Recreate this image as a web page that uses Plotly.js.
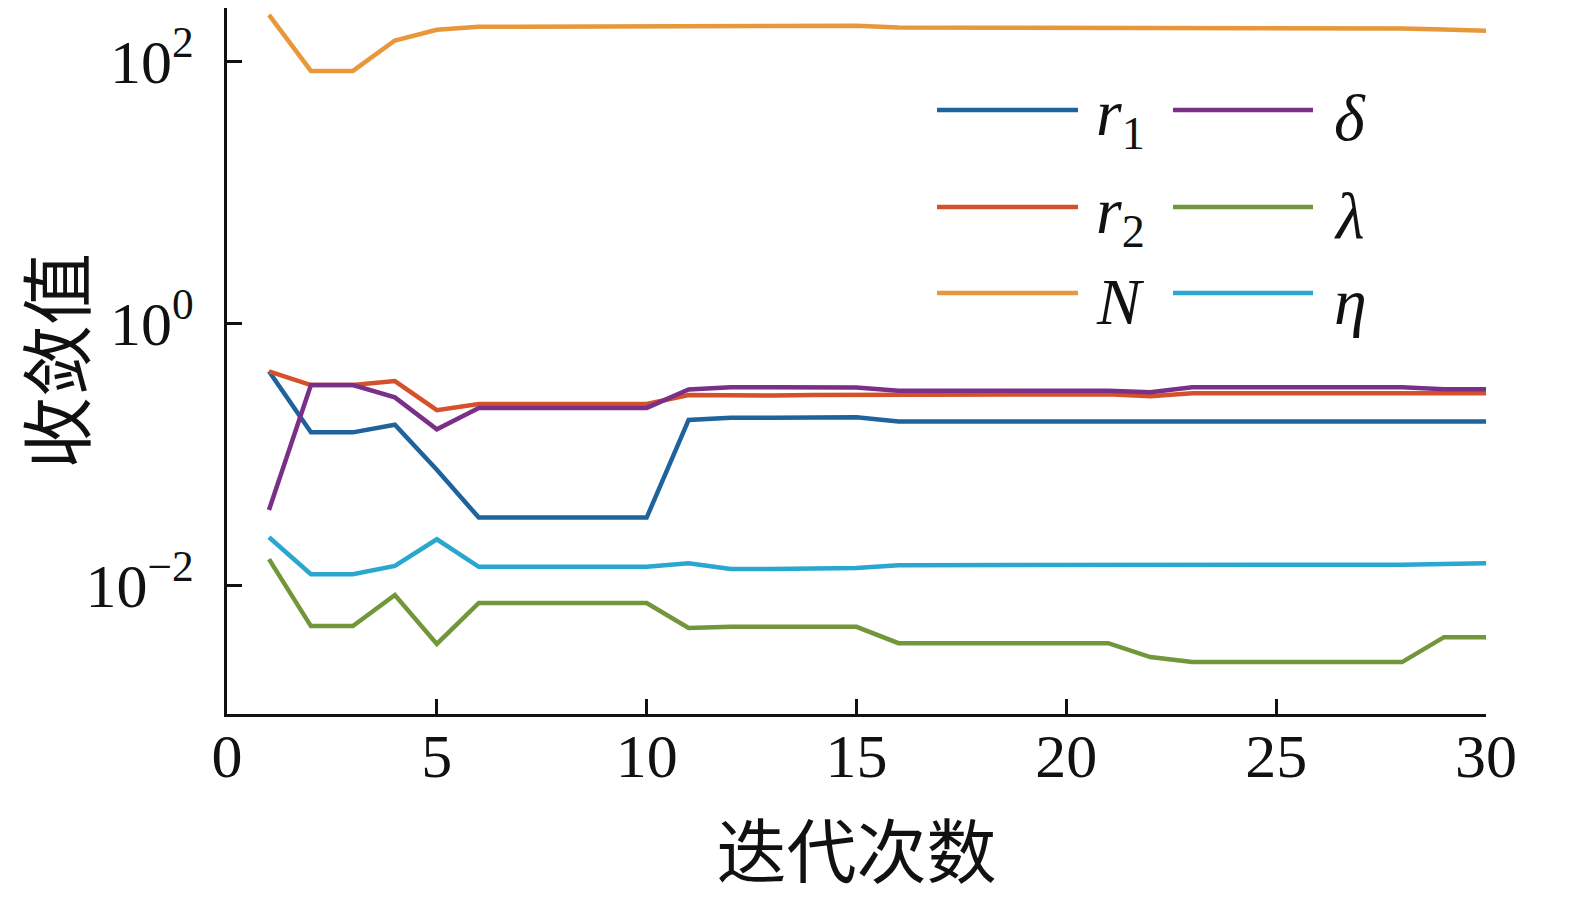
<!DOCTYPE html>
<html>
<head>
<meta charset="utf-8">
<script src="https://cdn.plot.ly/plotly-3.0.1.min.js"></script>
<style>html,body{margin:0;padding:0;background:#fff;}#chart{width:1573px;height:898px;}</style>
</head>
<body>
<div id="chart"></div>
<script>
// ---- data ----
const iterations = [1,2,3,4,5,6,7,8,9,10,11,12,13,14,15,16,17,18,19,20,21,22,23,24,25,26,27,28,29,30];
const r1 = [0.43,0.147,0.147,0.168,0.076,0.0328,0.0328,0.0328,0.0328,0.0328,0.183,0.19,0.19,0.192,0.192,0.178,0.178,0.178,0.178,0.178,0.178,0.178,0.178,0.178,0.178,0.178,0.178,0.178,0.178,0.178];
const r2 = [0.43,0.338,0.338,0.362,0.217,0.242,0.242,0.242,0.242,0.242,0.283,0.281,0.281,0.283,0.284,0.287,0.287,0.287,0.287,0.287,0.287,0.278,0.292,0.292,0.292,0.292,0.292,0.292,0.292,0.292];
const N = [228,85,85,145,175,185,185,185,185,185,188,188,188,188,188,182,182,182,182,182,182,181,179,179,179,179,179,179,176,172];
const delta = [0.0375,0.338,0.338,0.272,0.155,0.226,0.226,0.226,0.226,0.226,0.313,0.325,0.325,0.323,0.323,0.305,0.305,0.305,0.305,0.305,0.305,0.298,0.325,0.325,0.325,0.325,0.325,0.325,0.314,0.314];
const lambda = [0.0158,0.00486,0.00486,0.0084,0.00355,0.0073,0.0073,0.0073,0.0073,0.0073,0.0047,0.0048,0.0048,0.0048,0.0048,0.0036,0.0036,0.0036,0.0036,0.0036,0.0036,0.00282,0.00258,0.00258,0.00258,0.00258,0.00258,0.00258,0.0040,0.0040];
const eta = [0.0232,0.0121,0.0121,0.0140,0.0224,0.0138,0.0138,0.0138,0.0138,0.0138,0.0147,0.0133,0.0133,0.0134,0.0135,0.0142,0.0142,0.0142,0.0142,0.0142,0.0142,0.0143,0.0143,0.0143,0.0143,0.0143,0.0143,0.0143,0.0145,0.0147];

const seriesNames = ['<i>r</i><sub>1</sub>','<i>r</i><sub>2</sub>','<i>N</i>','<i>δ</i>','<i>λ</i>','<i>η</i>'];
const seriesData = [r1, r2, N, delta, lambda, eta];
const seriesColors = ['#1f639c','#d4512a','#e8983a','#7a2f88','#72963a','#2aa7cf'];

const yTickVals = [0.01, 1, 100];
const yTickText = ['10<sup>−2</sup>','10<sup>0</sup>','10<sup>2</sup>'];
const xTickVals = [0,5,10,15,20,25,30];
const xTitle = '迭代次数';
const yTitle = '收敛值';

const SERIF = 'Times New Roman, Liberation Serif, Times, serif';

// ---- traces ----
const traces = seriesData.map((d,i)=>({
  x: iterations, y: d, type:'scatter', mode:'lines',
  name: seriesNames[i], showlegend:false,
  line:{color:seriesColors[i], width:4.5}
}));

// ---- manual legend (two columns x three rows), positioned in paper coords ----
const L = 227, R = 1486, T = 8, B = 714;
const px = v => (v - L) / (R - L);
const py = v => (B - v) / (B - T);
const legRows = [110, 207, 293];
const legCols = [{x0:937,x1:1078,tx:1094},{x0:1173,x1:1313,tx:1332}];
const shapes = [], annotations = [];
seriesNames.forEach((nm,i)=>{
  const c = legCols[Math.floor(i/3)], r = legRows[i%3];
  shapes.push({type:'line', xref:'paper', yref:'paper', x0:px(c.x0), x1:px(c.x1), y0:py(r), y1:py(r),
    line:{color:seriesColors[i], width:4.5}});
  annotations.push({xref:'paper', yref:'paper', x:px(c.tx), y:py(r+8), xanchor:'left', yanchor:'middle',
    text:nm, showarrow:false, font:{family:SERIF, size:66, color:'#111'}});
});

const layout = {
  width:1573, height:898,
  margin:{l:L, r:1573-R, t:T, b:898-B},
  paper_bgcolor:'#fff', plot_bgcolor:'#fff',
  showlegend:false,
  font:{family:SERIF, color:'#111'},
  xaxis:{
    range:[0,30], tickvals:xTickVals, ticks:'inside', ticklen:15, tickwidth:3, tickcolor:'#111',
    showline:true, linecolor:'#111', linewidth:3, showgrid:false, zeroline:false,
    tickfont:{family:SERIF, size:62, color:'#111'}, ticklabelstandoff:-14,
    title:{text:xTitle, font:{family:'Noto Sans CJK SC', size:70, color:'#111'}, standoff:44},
    automargin:false
  },
  yaxis:{
    type:'log', range:[-2.985, 2.41], tickvals:yTickVals, ticktext:yTickText,
    ticks:'inside', ticklen:15, tickwidth:3, tickcolor:'#111',
    showline:true, linecolor:'#111', linewidth:3, showgrid:false, zeroline:false,
    tickfont:{family:SERIF, size:62, color:'#111'}, ticklabelstandoff:18,
    title:{text:yTitle, font:{family:'Noto Sans CJK SC', size:72, color:'#111'}, standoff:22},
    automargin:false
  },
  shapes: shapes,
  annotations: annotations
};

Plotly.newPlot('chart', traces, layout, {displayModeBar:false, staticPlot:true});
</script>
</body>
</html>
